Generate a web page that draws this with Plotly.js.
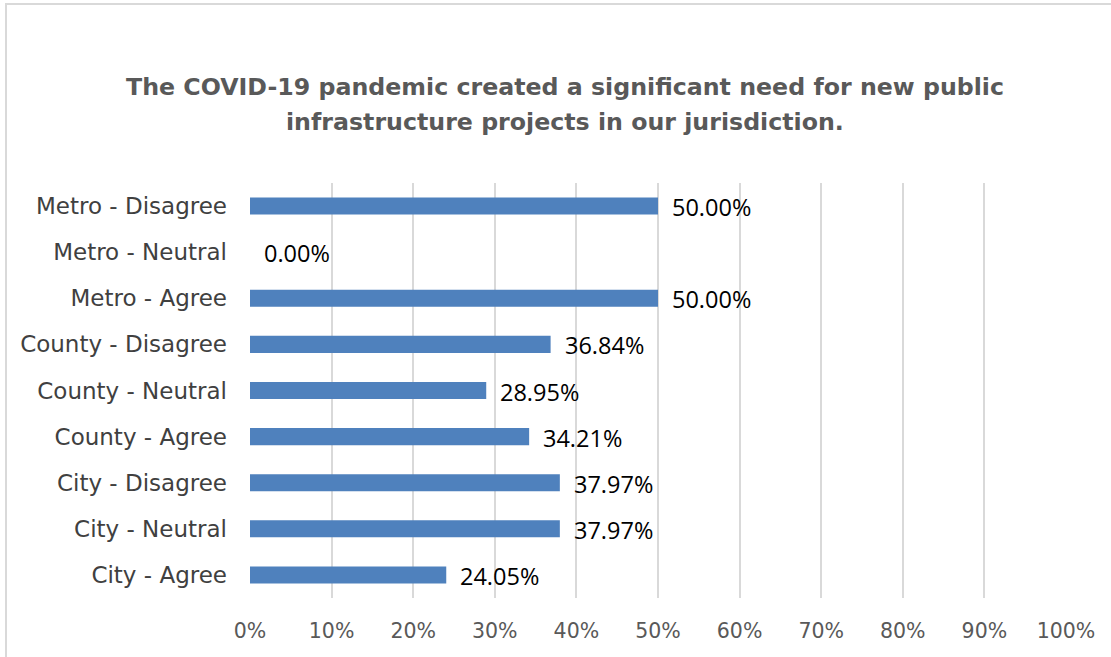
<!DOCTYPE html>
<html><head><meta charset="utf-8">
<script src="https://cdn.plot.ly/plotly-3.0.1.min.js"></script>
<style>body{margin:0;overflow:hidden;background:#fff}#frame{position:absolute;left:5px;top:3px;width:1200px;height:700px;border:2px solid #d9d9d9;pointer-events:none}</style>
</head><body>
<div id="chart" style="width:1111px;height:657px"></div>
<div id="frame"></div>
<script>
const categories = ["City - Agree","City - Neutral","City - Disagree","County - Agree","County - Neutral","County - Disagree","Metro - Agree","Metro - Neutral","Metro - Disagree"];
const values = [24.05,37.97,37.97,34.21,28.95,36.84,50.00,0.00,50.00];
const tickVals = [0,10,20,30,40,50,60,70,80,90,100];
const tickLabels = tickVals.map(v => v + "%");
const titleLines = ["The COVID-19 pandemic created a significant need for new public", "infrastructure projects in our jurisdiction."];

const annotations = categories.map((c,i) => ({
  x: values[i], y: c, xref: 'x', yref: 'y', text: values[i].toFixed(2) + '%',
  showarrow: false, xanchor: 'left', xshift: 12, yshift: -1,
  font: {family: 'Open Sans, sans-serif', size: 23.5, color: '#000'}
}));
titleLines.forEach((t, i) => annotations.push({
  text: '<b>' + t + '</b>', xref: 'paper', yref: 'paper', x: 0.386, y: 1.0,
  xanchor: 'center', yanchor: 'middle', yshift: 183 - 87 - i * 35 , showarrow: false,
  font: {family: 'DejaVu Sans, sans-serif', size: 23.7, color: '#595959'}
}));

Plotly.newPlot('chart', [{
  type: 'bar', orientation: 'h', y: categories, x: values,
  marker: {color: '#4f81bd'}, width: 0.37, hoverinfo: 'none'
}], {
  width: 1111, height: 657,
  margin: {l: 250, r: 45, t: 183, b: 59},
  paper_bgcolor: '#fff', plot_bgcolor: '#fff',
  xaxis: {range: [0, 100], tickvals: tickVals, ticktext: tickLabels, showgrid: true,
    gridcolor: '#d9d9d9', gridwidth: 2, zeroline: false, showline: false, ticklabelstandoff: 18,
    tickfont: {family: 'DejaVu Sans, sans-serif', size: 20.5, color: '#595959'}, ticklen: 0, ticks: '', fixedrange: true},
  yaxis: {type: 'category', categoryorder: 'array', categoryarray: categories, showgrid: false,
    zeroline: false, showline: false, ticks: '', ticklen: 0, ticklabelstandoff: 22,
    tickfont: {family: 'DejaVu Sans, sans-serif', size: 23, color: '#404040'}, fixedrange: true},
  showlegend: false, bargap: 0.6,
  annotations: annotations
}, {displayModeBar: false, staticPlot: true});
</script>
</body></html>
